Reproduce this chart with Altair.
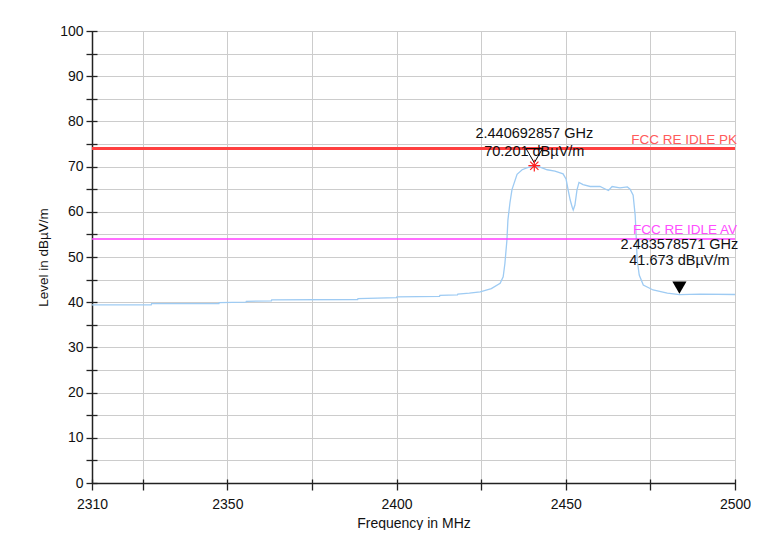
import altair as alt
import pandas as pd

# ---- data ----
freq = [2310, 2327.5, 2327.6, 2347.5, 2347.6, 2355.5, 2355.6, 2363.0, 2363.1, 2388.5,
        2388.6, 2400.0, 2400.1, 2412.7, 2412.8, 2418.0, 2418.1, 2421.5, 2424.7, 2428.0,
        2430.6, 2431.5, 2432.0, 2432.6, 2432.9, 2433.5, 2434.1, 2435.6, 2437.1, 2438.5,
        2440.692857, 2442.4, 2444.5, 2446.8, 2449.2, 2450.1, 2450.7, 2451.3, 2451.9, 2452.2,
        2452.7, 2453.3, 2453.9, 2455.1, 2457.2, 2460.1, 2461.5, 2462.6, 2463.7, 2466.0,
        2468.2, 2469.0, 2469.9, 2470.5, 2470.8, 2471.1, 2471.7, 2472.9, 2475.8, 2480.0,
        2483.578571, 2489.7, 2500.0]
level = [39.4, 39.4, 39.7, 39.7, 39.9, 40.0, 40.2, 40.3, 40.5, 40.6,
         40.8, 41.0, 41.2, 41.3, 41.5, 41.6, 41.8, 42.0, 42.3, 43.0,
         44.2, 45.6, 48.5, 53.7, 58.2, 62.0, 64.9, 68.3, 69.3, 69.7,
         70.201, 69.9, 69.3, 69.0, 68.4, 67.2, 64.8, 62.6, 61.0, 60.4,
         61.5, 64.8, 66.5, 66.0, 65.6, 65.6, 65.1, 64.7, 65.6, 65.3,
         65.5, 65.0, 63.7, 59.2, 54.6, 49.3, 46.0, 43.8, 42.7, 42.0,
         41.673, 41.8, 41.7]

limit_names = ["FCC RE IDLE PK", "FCC RE IDLE AV"]
limit_levels = [74, 54]

marker_freq = [2440.692857, 2483.578571]
marker_level = [70.201, 41.673]
marker_line1 = ["2.440692857 GHz", "2.483578571 GHz"]
marker_line2 = ["70.201 dBµV/m", "41.673 dBµV/m"]

x_ticks = [2310, 2325, 2350, 2375, 2400, 2425, 2450, 2475, 2500]
x_labels = [2310, 2350, 2400, 2450, 2500]
y_ticks = [0, 5, 10, 15, 20, 25, 30, 35, 40, 45, 50, 55, 60, 65, 70, 75, 80, 85, 90, 95, 100]
y_labels = [0, 10, 20, 30, 40, 50, 60, 70, 80, 90, 100]

x_domain = [x_ticks[0], x_ticks[-1]]
y_domain = [y_ticks[0], y_ticks[-1]]

FONT = "Liberation Sans"

trace = pd.DataFrame({"f": freq, "lvl": level})
pk = pd.DataFrame({"name": [limit_names[0]], "lvl": [limit_levels[0]], "f": [x_domain[1]]})
av = pd.DataFrame({"name": [limit_names[1]], "lvl": [limit_levels[1]], "f": [x_domain[1]]})
m1 = pd.DataFrame({"f": [marker_freq[0]], "lvl": [marker_level[0]],
                   "t1": [marker_line1[0]], "t2": [marker_line2[0]]})
m2 = pd.DataFrame({"f": [marker_freq[1]], "lvl": [marker_level[1]],
                   "t1": [marker_line1[1]], "t2": [marker_line2[1]]})

xscale = alt.Scale(domain=x_domain, nice=False, zero=False)
yscale = alt.Scale(domain=y_domain, nice=False, zero=False)

xlab_expr = "indexof([" + ",".join(str(v) for v in x_labels) + "], datum.value) >= 0 ? datum.label : ''"
ylab_expr = "indexof([" + ",".join(str(v) for v in y_labels) + "], datum.value) >= 0 ? datum.label : ''"

x_main = alt.X("f:Q", scale=xscale, axis=alt.Axis(
    orient="bottom", values=x_ticks, labelExpr=xlab_expr, format="d", labelFlush=False,
    ticks=False, labelPadding=14, labelFontSize=14, labelColor="#111111", labelFont=FONT,
    grid=True, gridColor="#cccccc", gridWidth=1,
    domain=True, domainColor="#222222", domainWidth=1.5,
    title="Frequency in MHz", titleFont=FONT, titleFontSize=14, titleFontWeight="normal",
    titleColor="#111111", titleY=40, titleBaseline="middle"))
y_main = alt.Y("lvl:Q", scale=yscale, axis=alt.Axis(
    orient="left", values=y_ticks, labelExpr=ylab_expr, format="d",
    ticks=False, labelPadding=9, labelFontSize=14, labelColor="#111111", labelFont=FONT,
    grid=True, gridColor="#cccccc", gridWidth=1,
    domain=True, domainColor="#222222", domainWidth=1.5,
    title="Level in dBµV/m", titleFont=FONT, titleFontSize=13.5, titleFontWeight="normal",
    titleColor="#111111", titleX=-49, titleBaseline="middle"))

line = alt.Chart(trace).mark_line(color="#9ecbf3", strokeWidth=1.3).encode(x=x_main, y=y_main)

# crossing tick marks (axes only, no domain/labels/grid)
x_ticks_axis = alt.X("f:Q", scale=xscale, axis=alt.Axis(
    orient="bottom", values=x_ticks, labels=False, grid=False, domain=False, offset=-4,
    ticks=True, tickSize=11, tickColor="#222222", tickWidth=1.3, title=None))
y_ticks_axis = alt.Y("lvl:Q", scale=yscale, axis=alt.Axis(
    orient="left", values=y_ticks, labels=False, grid=False, domain=False, offset=-5,
    ticks=True, tickSize=11, tickColor="#222222", tickWidth=1.3, title=None))
tick_layer = alt.Chart(trace).mark_line(opacity=0).encode(x=x_ticks_axis, y=y_ticks_axis)

X = alt.X("f:Q", scale=xscale, axis=None)
Y = alt.Y("lvl:Q", scale=yscale, axis=None)

pk_rule = alt.Chart(pk).mark_rule(color="#ff4040", strokeWidth=3).encode(y=Y)
av_rule = alt.Chart(av).mark_rule(color="#ff3dff", strokeWidth=1.5).encode(y=Y)
pk_text = alt.Chart(pk).mark_text(align="right", baseline="middle", dx=2, dy=-9,
                                  font=FONT, fontSize=13.5, color="#ff5a5a").encode(x=X, y=Y, text="name:N")
av_text = alt.Chart(av).mark_text(align="right", baseline="middle", dx=2, dy=-9,
                                  font=FONT, fontSize=13.5, color="#ff4dff").encode(x=X, y=Y, text="name:N")

ast_shape = "M-1,0L1,0M0,-1L0,1M-0.7,-0.7L0.7,0.7M-0.7,0.7L0.7,-0.7"
m1_star = alt.Chart(m1).mark_point(shape=ast_shape, size=140, filled=False, color="#ff2020",
                                   strokeWidth=1.2, opacity=1).encode(x=X, y=Y)
m1_tri = alt.Chart(m1).mark_point(shape="triangle-down", size=270, filled=False, color="#000000",
                                  strokeWidth=1, opacity=1, yOffset=-10).encode(x=X, y=Y)
m2_tri = alt.Chart(m2).mark_point(shape="triangle-down", size=200, filled=True, color="#000000",
                                  opacity=1, yOffset=-7).encode(x=X, y=Y)

def label(df, field, dy):
    return alt.Chart(df).mark_text(align="center", baseline="middle", dy=dy, font=FONT,
                                   fontSize=14.5, color="#111111").encode(x=X, y=Y, text=f"{field}:N")

chart = alt.layer(
    line, tick_layer, pk_rule, av_rule, pk_text, av_text,
    label(m1, "t1", -32), label(m1, "t2", -14), label(m2, "t1", -50), label(m2, "t2", -34),
    m2_tri, m1_tri, m1_star,
).resolve_axis(x="independent", y="independent").properties(
    width=643, height=452,
    autosize=alt.AutoSizeParams(type="none"),
    padding={"left": 84, "top": 23, "right": 16, "bottom": 47},
    background="white",
).configure_view(stroke="#cccccc")

chart.save("out.html", embed_options={"renderer": "svg", "actions": False})
